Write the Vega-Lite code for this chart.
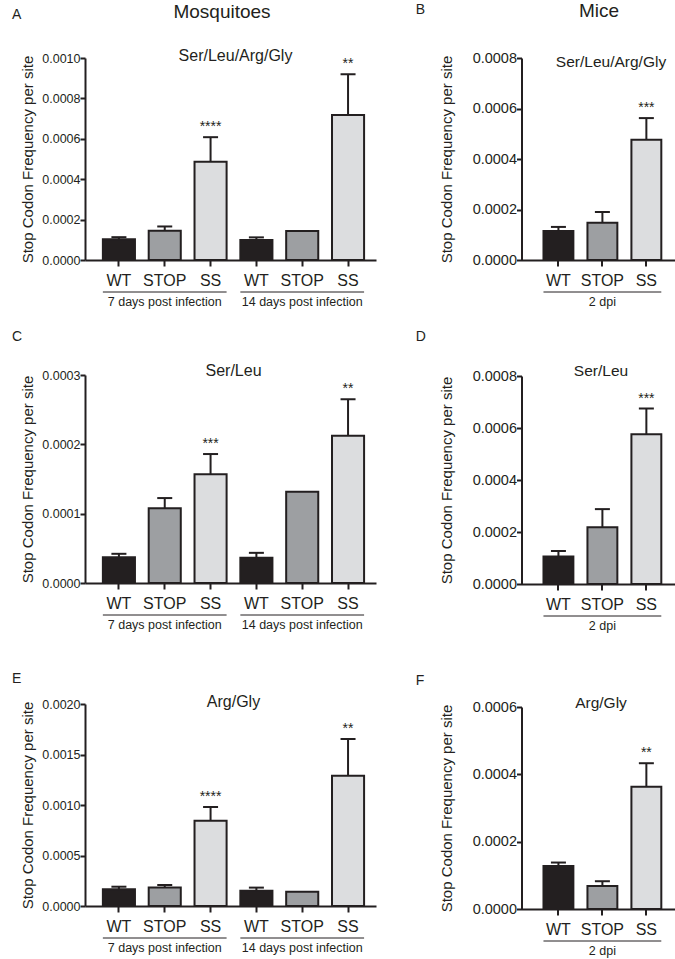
{
"$schema": "https://vega.github.io/schema/vega-lite/v6.json",
"padding": {"left": 12, "top": 2, "right": 0, "bottom": 0},
"config": {
 "font": "Liberation Sans",
 "view": {"stroke": null},
 "axis": {"domainColor": "#231f20", "domainWidth": 2, "tickColor": "#231f20", "tickWidth": 2, "labelColor": "#231f20", "titleColor": "#231f20", "grid": false, "titleFontWeight": "normal"},
 "axisX": {"labelAngle": 0, "labelFontSize": 16, "tickSize": 6, "labelPadding": 6},
 "axisY": {"labelFontSize": 12.5, "tickSize": 5, "labelPadding": 0, "titleFontSize": 15, "titlePadding": 6, "format": ".4f"},
 "title": {"fontWeight": "normal", "color": "#231f20"}
},
"datasets": {
 "A": [
  {"cat": "WT_7", "geno": "WT", "value": 0.000103, "hi": 0.000113, "sig": null},
  {"cat": "STOP_7", "geno": "STOP", "value": 0.000145, "hi": 0.000166, "sig": null},
  {"cat": "SS_7", "geno": "SS", "value": 0.000487, "hi": 0.000608, "sig": "****"},
  {"cat": "WT_14", "geno": "WT", "value": 0.000099, "hi": 0.000112, "sig": null},
  {"cat": "STOP_14", "geno": "STOP", "value": 0.000144, "hi": null, "sig": null},
  {"cat": "SS_14", "geno": "SS", "value": 0.000718, "hi": 0.000919, "sig": "**"}
 ],
 "B": [
  {"cat": "WT", "geno": "WT", "value": 0.000115, "hi": 0.000131, "sig": null},
  {"cat": "STOP", "geno": "STOP", "value": 0.000148, "hi": 0.00019, "sig": null},
  {"cat": "SS", "geno": "SS", "value": 0.000476, "hi": 0.000562, "sig": "***"}
 ],
 "C": [
  {"cat": "WT_7", "geno": "WT", "value": 0.0000373, "hi": 0.0000421, "sig": null},
  {"cat": "STOP_7", "geno": "STOP", "value": 0.0001077, "hi": 0.0001225, "sig": null},
  {"cat": "SS_7", "geno": "SS", "value": 0.0001569, "hi": 0.000186, "sig": "***"},
  {"cat": "WT_14", "geno": "WT", "value": 0.0000364, "hi": 0.0000435, "sig": null},
  {"cat": "STOP_14", "geno": "STOP", "value": 0.0001315, "hi": null, "sig": null},
  {"cat": "SS_14", "geno": "SS", "value": 0.0002124, "hi": 0.000265, "sig": "**"}
 ],
 "D": [
  {"cat": "WT", "geno": "WT", "value": 0.0001055, "hi": 0.000127, "sig": null},
  {"cat": "STOP", "geno": "STOP", "value": 0.0002186, "hi": 0.000288, "sig": null},
  {"cat": "SS", "geno": "SS", "value": 0.000576, "hi": 0.000675, "sig": "***"}
 ],
 "E": [
  {"cat": "WT_7", "geno": "WT", "value": 0.000165, "hi": 0.000191, "sig": null},
  {"cat": "STOP_7", "geno": "STOP", "value": 0.000182, "hi": 0.000208, "sig": null},
  {"cat": "SS_7", "geno": "SS", "value": 0.000845, "hi": 0.00098, "sig": "****"},
  {"cat": "WT_14", "geno": "WT", "value": 0.000152, "hi": 0.000182, "sig": null},
  {"cat": "STOP_14", "geno": "STOP", "value": 0.000142, "hi": null, "sig": null},
  {"cat": "SS_14", "geno": "SS", "value": 0.00129, "hi": 0.001653, "sig": "**"}
 ],
 "F": [
  {"cat": "WT", "geno": "WT", "value": 0.000128, "hi": 0.000138, "sig": null},
  {"cat": "STOP", "geno": "STOP", "value": 0.0000686, "hi": 0.0000825, "sig": null},
  {"cat": "SS", "geno": "SS", "value": 0.000363, "hi": 0.000433, "sig": "**"}
 ],
 "GL": [
  {"g": "7 days post infection", "s": "WT_7", "m": "STOP_7", "e": "SS_7"},
  {"g": "14 days post infection", "s": "WT_14", "m": "STOP_14", "e": "SS_14"}
 ],
 "GR": [
  {"g": "2 dpi", "s": "WT", "m": "STOP", "e": "SS"}
 ]
},
"hconcat": [
 {
  "title": {"text": "Mosquitoes", "fontSize": 19, "offset": -14, "dx": 28, "anchor": "middle"},
  "spacing": 40,
  "vconcat": [
   {
    "spacing": 21,
    "vconcat": [
     {
      "title": {"text": "A", "fontSize": 14, "anchor": "start", "frame": "bounds", "dx": -8.75, "offset": 26},
      "vconcat": [
       {
        "width": 291, "height": 202,
        "title": {"text": "Ser/Leu/Arg/Gly", "fontSize": 16, "frame": "group", "anchor": "middle", "offset": -12, "dx": 5},
        "data": {"name": "A"},
        "layer": [
         {"mark": {"type": "bar", "stroke": "#231f20", "strokeWidth": 2},
          "encoding": {
           "x": {"field": "cat", "type": "nominal", "title": null, "scale": {"domain": ["WT_7","STOP_7","SS_7","WT_14","STOP_14","SS_14"], "paddingInner": 0.3, "paddingOuter": 0.325, "align": 0.6}, "axis": {"labelExpr": "split(datum.label, '_')[0]"}},
           "y": {"field": "value", "type": "quantitative", "title": "Stop Codon Frequency per site", "scale": {"domain": [0, 0.001], "nice": false}, "axis": {"values": [0, 0.0002, 0.0004, 0.0006, 0.0008, 0.001]}},
           "fill": {"field": "geno", "type": "nominal", "scale": {"domain": ["WT","STOP","SS"], "range": ["#231f20","#9d9fa2","#dcdddf"]}, "legend": null}
          }},
         {"transform": [{"filter": "isValid(datum.hi)"}], "mark": {"type": "rule", "strokeWidth": 2, "color": "#231f20"},
          "encoding": {"x": {"field": "cat", "type": "nominal", "title": null}, "y": {"field": "value", "type": "quantitative"}, "y2": {"field": "hi"}}},
         {"transform": [{"filter": "isValid(datum.hi)"}], "mark": {"type": "tick", "thickness": 2, "size": 15, "color": "#231f20", "opacity": 1},
          "encoding": {"x": {"field": "cat", "type": "nominal", "title": null}, "y": {"field": "hi", "type": "quantitative"}}},
         {"transform": [{"filter": "isValid(datum.sig)"}], "mark": {"type": "text", "fontSize": 14, "dy": -10, "color": "#231f20"},
          "encoding": {"x": {"field": "cat", "type": "nominal", "title": null}, "y": {"field": "hi", "type": "quantitative"}, "text": {"field": "sig"}}},
         {"data": {"name": "GL"}, "mark": {"type": "rule", "strokeWidth": 1, "color": "#231f20", "yOffset": 32},
          "encoding": {"x": {"field": "s", "type": "nominal", "bandPosition": 0, "title": null}, "x2": {"field": "e", "bandPosition": 1}, "y": {"datum": 0, "type": "quantitative"}}},
         {"data": {"name": "GL"}, "mark": {"type": "text", "fontSize": 12.5, "yOffset": 42, "baseline": "middle", "color": "#231f20"},
          "encoding": {"x": {"field": "m", "type": "nominal", "title": null}, "y": {"datum": 0, "type": "quantitative"}, "text": {"field": "g"}}}
        ]
       }
      ]
     },
     {
      "title": {"text": "C", "fontSize": 14, "anchor": "start", "frame": "bounds", "dx": -8.75, "offset": 19},
      "vconcat": [
       {
        "width": 291, "height": 208,
        "title": {"text": "Ser/Leu", "fontSize": 16, "frame": "group", "anchor": "middle", "offset": -10, "dx": 3},
        "data": {"name": "C"},
        "layer": [
         {"mark": {"type": "bar", "stroke": "#231f20", "strokeWidth": 2},
          "encoding": {
           "x": {"field": "cat", "type": "nominal", "title": null, "scale": {"domain": ["WT_7","STOP_7","SS_7","WT_14","STOP_14","SS_14"], "paddingInner": 0.3, "paddingOuter": 0.325, "align": 0.6}, "axis": {"labelExpr": "split(datum.label, '_')[0]"}},
           "y": {"field": "value", "type": "quantitative", "title": "Stop Codon Frequency per site", "scale": {"domain": [0, 0.0003], "nice": false}, "axis": {"values": [0, 0.0001, 0.0002, 0.0003]}},
           "fill": {"field": "geno", "type": "nominal", "scale": {"domain": ["WT","STOP","SS"], "range": ["#231f20","#9d9fa2","#dcdddf"]}, "legend": null}
          }},
         {"transform": [{"filter": "isValid(datum.hi)"}], "mark": {"type": "rule", "strokeWidth": 2, "color": "#231f20"},
          "encoding": {"x": {"field": "cat", "type": "nominal", "title": null}, "y": {"field": "value", "type": "quantitative"}, "y2": {"field": "hi"}}},
         {"transform": [{"filter": "isValid(datum.hi)"}], "mark": {"type": "tick", "thickness": 2, "size": 15, "color": "#231f20", "opacity": 1},
          "encoding": {"x": {"field": "cat", "type": "nominal", "title": null}, "y": {"field": "hi", "type": "quantitative"}}},
         {"transform": [{"filter": "isValid(datum.sig)"}], "mark": {"type": "text", "fontSize": 14, "dy": -10, "color": "#231f20"},
          "encoding": {"x": {"field": "cat", "type": "nominal", "title": null}, "y": {"field": "hi", "type": "quantitative"}, "text": {"field": "sig"}}},
         {"data": {"name": "GL"}, "mark": {"type": "rule", "strokeWidth": 1, "color": "#231f20", "yOffset": 32},
          "encoding": {"x": {"field": "s", "type": "nominal", "bandPosition": 0, "title": null}, "x2": {"field": "e", "bandPosition": 1}, "y": {"datum": 0, "type": "quantitative"}}},
         {"data": {"name": "GL"}, "mark": {"type": "text", "fontSize": 12.5, "yOffset": 42, "baseline": "middle", "color": "#231f20"},
          "encoding": {"x": {"field": "m", "type": "nominal", "title": null}, "y": {"datum": 0, "type": "quantitative"}, "text": {"field": "g"}}}
        ]
       }
      ]
     }
    ]
   },
   {
    "title": {"text": "E", "fontSize": 14, "anchor": "start", "frame": "bounds", "dx": -8.75, "offset": 8},
    "vconcat": [
     {
      "width": 291, "height": 202,
      "title": {"text": "Arg/Gly", "fontSize": 16, "frame": "group", "anchor": "middle", "offset": -12, "dx": 3},
      "data": {"name": "E"},
      "layer": [
       {"mark": {"type": "bar", "stroke": "#231f20", "strokeWidth": 2},
        "encoding": {
         "x": {"field": "cat", "type": "nominal", "title": null, "scale": {"domain": ["WT_7","STOP_7","SS_7","WT_14","STOP_14","SS_14"], "paddingInner": 0.3, "paddingOuter": 0.325, "align": 0.6}, "axis": {"labelExpr": "split(datum.label, '_')[0]"}},
         "y": {"field": "value", "type": "quantitative", "title": "Stop Codon Frequency per site", "scale": {"domain": [0, 0.002], "nice": false}, "axis": {"values": [0, 0.0005, 0.001, 0.0015, 0.002]}},
         "fill": {"field": "geno", "type": "nominal", "scale": {"domain": ["WT","STOP","SS"], "range": ["#231f20","#9d9fa2","#dcdddf"]}, "legend": null}
        }},
       {"transform": [{"filter": "isValid(datum.hi)"}], "mark": {"type": "rule", "strokeWidth": 2, "color": "#231f20"},
        "encoding": {"x": {"field": "cat", "type": "nominal", "title": null}, "y": {"field": "value", "type": "quantitative"}, "y2": {"field": "hi"}}},
       {"transform": [{"filter": "isValid(datum.hi)"}], "mark": {"type": "tick", "thickness": 2, "size": 15, "color": "#231f20", "opacity": 1},
        "encoding": {"x": {"field": "cat", "type": "nominal", "title": null}, "y": {"field": "hi", "type": "quantitative"}}},
       {"transform": [{"filter": "isValid(datum.sig)"}], "mark": {"type": "text", "fontSize": 14, "dy": -10, "color": "#231f20"},
        "encoding": {"x": {"field": "cat", "type": "nominal", "title": null}, "y": {"field": "hi", "type": "quantitative"}, "text": {"field": "sig"}}},
       {"data": {"name": "GL"}, "mark": {"type": "rule", "strokeWidth": 1, "color": "#231f20", "yOffset": 32},
        "encoding": {"x": {"field": "s", "type": "nominal", "bandPosition": 0, "title": null}, "x2": {"field": "e", "bandPosition": 1}, "y": {"datum": 0, "type": "quantitative"}}},
       {"data": {"name": "GL"}, "mark": {"type": "text", "fontSize": 12.5, "yOffset": 42, "baseline": "middle", "color": "#231f20"},
        "encoding": {"x": {"field": "m", "type": "nominal", "title": null}, "y": {"datum": 0, "type": "quantitative"}, "text": {"field": "g"}}}
      ]
     }
    ]
   }
  ]
 },
 {
  "title": {"text": "Mice", "fontSize": 19, "offset": -14, "dx": 54, "dy": 4, "anchor": "middle"},
  "spacing": 40,
  "vconcat": [
   {
    "spacing": 20,
    "vconcat": [
     {
      "title": {"text": "B", "fontSize": 14, "anchor": "start", "frame": "bounds", "dx": -23.5, "offset": 33},
      "vconcat": [
       {
        "width": 153, "height": 202,
        "title": {"text": "Ser/Leu/Arg/Gly", "fontSize": 15.5, "frame": "group", "anchor": "middle", "offset": -20, "dx": 13},
        "data": {"name": "B"},
        "layer": [
         {"mark": {"type": "bar", "stroke": "#231f20", "strokeWidth": 2},
          "encoding": {
           "x": {"field": "cat", "type": "nominal", "title": null, "scale": {"domain": ["WT","STOP","SS"], "paddingInner": 0.32, "paddingOuter": 0.4, "align": 0.625}, "axis": {"labelExpr": "split(datum.label, '_')[0]"}},
           "y": {"field": "value", "type": "quantitative", "title": "Stop Codon Frequency per site", "scale": {"domain": [0, 0.0008], "nice": false}, "axis": {"values": [0, 0.0002, 0.0004, 0.0006, 0.0008], "labelFontSize": 14.5, "titlePadding": 18}},
           "fill": {"field": "geno", "type": "nominal", "scale": {"domain": ["WT","STOP","SS"], "range": ["#231f20","#9d9fa2","#dcdddf"]}, "legend": null}
          }},
         {"transform": [{"filter": "isValid(datum.hi)"}], "mark": {"type": "rule", "strokeWidth": 2, "color": "#231f20"},
          "encoding": {"x": {"field": "cat", "type": "nominal", "title": null}, "y": {"field": "value", "type": "quantitative"}, "y2": {"field": "hi"}}},
         {"transform": [{"filter": "isValid(datum.hi)"}], "mark": {"type": "tick", "thickness": 2, "size": 15, "color": "#231f20", "opacity": 1},
          "encoding": {"x": {"field": "cat", "type": "nominal", "title": null}, "y": {"field": "hi", "type": "quantitative"}}},
         {"transform": [{"filter": "isValid(datum.sig)"}], "mark": {"type": "text", "fontSize": 14, "dy": -10, "color": "#231f20"},
          "encoding": {"x": {"field": "cat", "type": "nominal", "title": null}, "y": {"field": "hi", "type": "quantitative"}, "text": {"field": "sig"}}},
         {"data": {"name": "GR"}, "mark": {"type": "rule", "strokeWidth": 1, "color": "#231f20", "yOffset": 32},
          "encoding": {"x": {"field": "s", "type": "nominal", "bandPosition": 0, "title": null}, "x2": {"field": "e", "bandPosition": 1}, "y": {"datum": 0, "type": "quantitative"}}},
         {"data": {"name": "GR"}, "mark": {"type": "text", "fontSize": 12.5, "yOffset": 42, "baseline": "middle", "color": "#231f20"},
          "encoding": {"x": {"field": "m", "type": "nominal", "title": null}, "y": {"datum": 0, "type": "quantitative"}, "text": {"field": "g"}}}
        ]
       }
      ]
     },
     {
      "title": {"text": "D", "fontSize": 14, "anchor": "start", "frame": "bounds", "dx": -23.5, "offset": 20},
      "vconcat": [
       {
        "width": 153, "height": 208,
        "title": {"text": "Ser/Leu", "fontSize": 15.5, "frame": "group", "anchor": "middle", "offset": -11, "dx": 3},
        "data": {"name": "D"},
        "layer": [
         {"mark": {"type": "bar", "stroke": "#231f20", "strokeWidth": 2},
          "encoding": {
           "x": {"field": "cat", "type": "nominal", "title": null, "scale": {"domain": ["WT","STOP","SS"], "paddingInner": 0.32, "paddingOuter": 0.4, "align": 0.625}, "axis": {"labelExpr": "split(datum.label, '_')[0]"}},
           "y": {"field": "value", "type": "quantitative", "title": "Stop Codon Frequency per site", "scale": {"domain": [0, 0.0008], "nice": false}, "axis": {"values": [0, 0.0002, 0.0004, 0.0006, 0.0008], "labelFontSize": 14.5, "titlePadding": 18}},
           "fill": {"field": "geno", "type": "nominal", "scale": {"domain": ["WT","STOP","SS"], "range": ["#231f20","#9d9fa2","#dcdddf"]}, "legend": null}
          }},
         {"transform": [{"filter": "isValid(datum.hi)"}], "mark": {"type": "rule", "strokeWidth": 2, "color": "#231f20"},
          "encoding": {"x": {"field": "cat", "type": "nominal", "title": null}, "y": {"field": "value", "type": "quantitative"}, "y2": {"field": "hi"}}},
         {"transform": [{"filter": "isValid(datum.hi)"}], "mark": {"type": "tick", "thickness": 2, "size": 15, "color": "#231f20", "opacity": 1},
          "encoding": {"x": {"field": "cat", "type": "nominal", "title": null}, "y": {"field": "hi", "type": "quantitative"}}},
         {"transform": [{"filter": "isValid(datum.sig)"}], "mark": {"type": "text", "fontSize": 14, "dy": -10, "color": "#231f20"},
          "encoding": {"x": {"field": "cat", "type": "nominal", "title": null}, "y": {"field": "hi", "type": "quantitative"}, "text": {"field": "sig"}}},
         {"data": {"name": "GR"}, "mark": {"type": "rule", "strokeWidth": 1, "color": "#231f20", "yOffset": 32},
          "encoding": {"x": {"field": "s", "type": "nominal", "bandPosition": 0, "title": null}, "x2": {"field": "e", "bandPosition": 1}, "y": {"datum": 0, "type": "quantitative"}}},
         {"data": {"name": "GR"}, "mark": {"type": "text", "fontSize": 12.5, "yOffset": 42, "baseline": "middle", "color": "#231f20"},
          "encoding": {"x": {"field": "m", "type": "nominal", "title": null}, "y": {"datum": 0, "type": "quantitative"}, "text": {"field": "g"}}}
        ]
       }
      ]
     }
    ]
   },
   {
    "title": {"text": "F", "fontSize": 14, "anchor": "start", "frame": "bounds", "dx": -23.5, "offset": 8},
    "vconcat": [
     {
      "width": 153, "height": 202,
      "title": {"text": "Arg/Gly", "fontSize": 15.5, "frame": "group", "anchor": "middle", "offset": -12, "dx": 3},
      "data": {"name": "F"},
      "layer": [
       {"mark": {"type": "bar", "stroke": "#231f20", "strokeWidth": 2},
        "encoding": {
         "x": {"field": "cat", "type": "nominal", "title": null, "scale": {"domain": ["WT","STOP","SS"], "paddingInner": 0.32, "paddingOuter": 0.4, "align": 0.625}, "axis": {"labelExpr": "split(datum.label, '_')[0]"}},
         "y": {"field": "value", "type": "quantitative", "title": "Stop Codon Frequency per site", "scale": {"domain": [0, 0.0006], "nice": false}, "axis": {"values": [0, 0.0002, 0.0004, 0.0006], "labelFontSize": 14.5, "titlePadding": 18}},
         "fill": {"field": "geno", "type": "nominal", "scale": {"domain": ["WT","STOP","SS"], "range": ["#231f20","#9d9fa2","#dcdddf"]}, "legend": null}
        }},
       {"transform": [{"filter": "isValid(datum.hi)"}], "mark": {"type": "rule", "strokeWidth": 2, "color": "#231f20"},
        "encoding": {"x": {"field": "cat", "type": "nominal", "title": null}, "y": {"field": "value", "type": "quantitative"}, "y2": {"field": "hi"}}},
       {"transform": [{"filter": "isValid(datum.hi)"}], "mark": {"type": "tick", "thickness": 2, "size": 15, "color": "#231f20", "opacity": 1},
        "encoding": {"x": {"field": "cat", "type": "nominal", "title": null}, "y": {"field": "hi", "type": "quantitative"}}},
       {"transform": [{"filter": "isValid(datum.sig)"}], "mark": {"type": "text", "fontSize": 14, "dy": -10, "color": "#231f20"},
        "encoding": {"x": {"field": "cat", "type": "nominal", "title": null}, "y": {"field": "hi", "type": "quantitative"}, "text": {"field": "sig"}}},
       {"data": {"name": "GR"}, "mark": {"type": "rule", "strokeWidth": 1, "color": "#231f20", "yOffset": 32},
        "encoding": {"x": {"field": "s", "type": "nominal", "bandPosition": 0, "title": null}, "x2": {"field": "e", "bandPosition": 1}, "y": {"datum": 0, "type": "quantitative"}}},
       {"data": {"name": "GR"}, "mark": {"type": "text", "fontSize": 12.5, "yOffset": 42, "baseline": "middle", "color": "#231f20"},
        "encoding": {"x": {"field": "m", "type": "nominal", "title": null}, "y": {"datum": 0, "type": "quantitative"}, "text": {"field": "g"}}}
      ]
     }
    ]
   }
  ]
 }
],
"spacing": 39.5
}
